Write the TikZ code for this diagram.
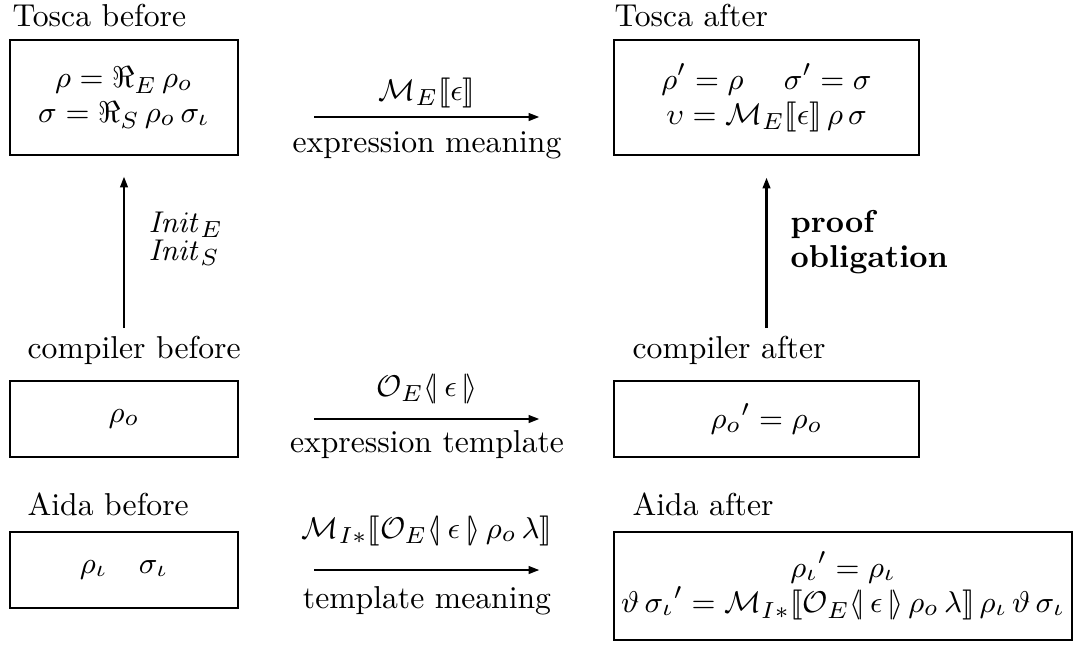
\documentclass[tikz,border=0pt]{standalone}
\usepackage{amssymb}
\usepackage{stmaryrd}
\usetikzlibrary{arrows.meta}
\newcommand{\ltpl}{\langle\!|}
\newcommand{\rtpl}{|\!\rangle}
\begin{document}
\begin{tikzpicture}[x=0.3pt,y=-0.3pt,
  every node/.style={font=\fontsize{9.5}{10.5}\selectfont},
  box/.style={draw, line width=0.8pt, inner sep=0pt, align=center},
  lbl/.style={anchor=base west, inner sep=0pt},
  mid/.style={anchor=base, inner sep=0pt},
  arr/.style={line width=0.8pt, -{Triangle[length=3.3pt,width=2.2pt]}}]
\useasboundingbox (0,0) rectangle (1079,647);
% boxes
\node[box, minimum width=68.4pt, minimum height=34.5pt] (tb) at (124,97.5)
  {$\rho = \Re_E\,\rho_o$\\ $\sigma = \Re_S\,\rho_o\,\sigma_\iota$};
\node[box, minimum width=91.5pt, minimum height=34.5pt] (ta) at (766.5,97.5)
  {$\rho' = \rho \quad\; \sigma' = \sigma$\\ $\upsilon = \mathcal{M}_E\llbracket\epsilon\rrbracket\,\rho\,\sigma$};
\node[box, minimum width=68.4pt, minimum height=22.8pt] (cb) at (124,419) {$\rho_o$};
\node[box, minimum width=91.5pt, minimum height=22.8pt] (ca) at (766.5,419) {$\rho_o{}' = \rho_o$};
\node[box, minimum width=68.4pt, minimum height=22.8pt] (ab) at (124,570) {$\rho_\iota \quad \sigma_\iota$};
\node[box, minimum width=137.4pt, minimum height=32.4pt] (aa) at (843,586)
  {$\rho_\iota{}' = \rho_\iota$\\ $\vartheta\,\sigma_\iota{}' = \mathcal{M}_{I*}\llbracket \mathcal{O}_E\ltpl\,\epsilon\,\rtpl\,\rho_o\,\lambda\rrbracket\,\rho_\iota\,\vartheta\,\sigma_\iota$};
% labels
\node[lbl] (tbl) at (12,26) {Tosca before};
\node[lbl] (tal) at (614,26) {Tosca after};
\node[lbl] (cbl) at (27,358) {compiler before};
\node[lbl] (cal) at (632,358) {compiler after};
\node[lbl] (abl) at (27,515) {Aida before};
\node[lbl] (aal) at (632,515) {Aida after};
% arrow labels
\node[mid] (a1t) at (427,100) {$\mathcal{M}_E\llbracket\epsilon\rrbracket$};
\node[mid] (a1b) at (427,152) {expression meaning};
\node[mid] (a2t) at (427,396) {$\mathcal{O}_E\ltpl\,\epsilon\,\rtpl$};
\node[mid] (a2b) at (427,452) {expression template};
\node[mid] (a3t) at (427,538) {$\mathcal{M}_{I*}\llbracket\mathcal{O}_E\ltpl\,\epsilon\,\rtpl\,\rho_o\,\lambda\rrbracket$};
\node[mid] (a3b) at (427,608) {template meaning};
\node[lbl] (ie) at (148,232) {$\mathit{Init}_E$};
\node[lbl] (is) at (148,260) {$\mathit{Init}_S$};
\node[lbl] (po1) at (790,232) {\textbf{proof}};
\node[lbl] (po2) at (790,267) {\textbf{obligation}};
% connectors
\coordinate (r1) at (0,117);
\draw[arr, shorten <=22.5pt, shorten >=21.9pt] (tb.east |- r1) -- (ta.west |- r1);
\draw[arr, shorten <=22.5pt, shorten >=21.9pt] (cb.east) -- (ca.west);
\draw[arr, shorten <=22.5pt, shorten >=21.9pt] (ab.east) -- (aa.west |- ab.east);
\coordinate (lb) at (124,328);
\coordinate (rb) at (766.5,328);
\draw[arr, shorten >=6pt] (lb) -- (tb);
\draw[arr, shorten >=6.3pt] (rb) -- (ta);
\end{tikzpicture}
\end{document}
